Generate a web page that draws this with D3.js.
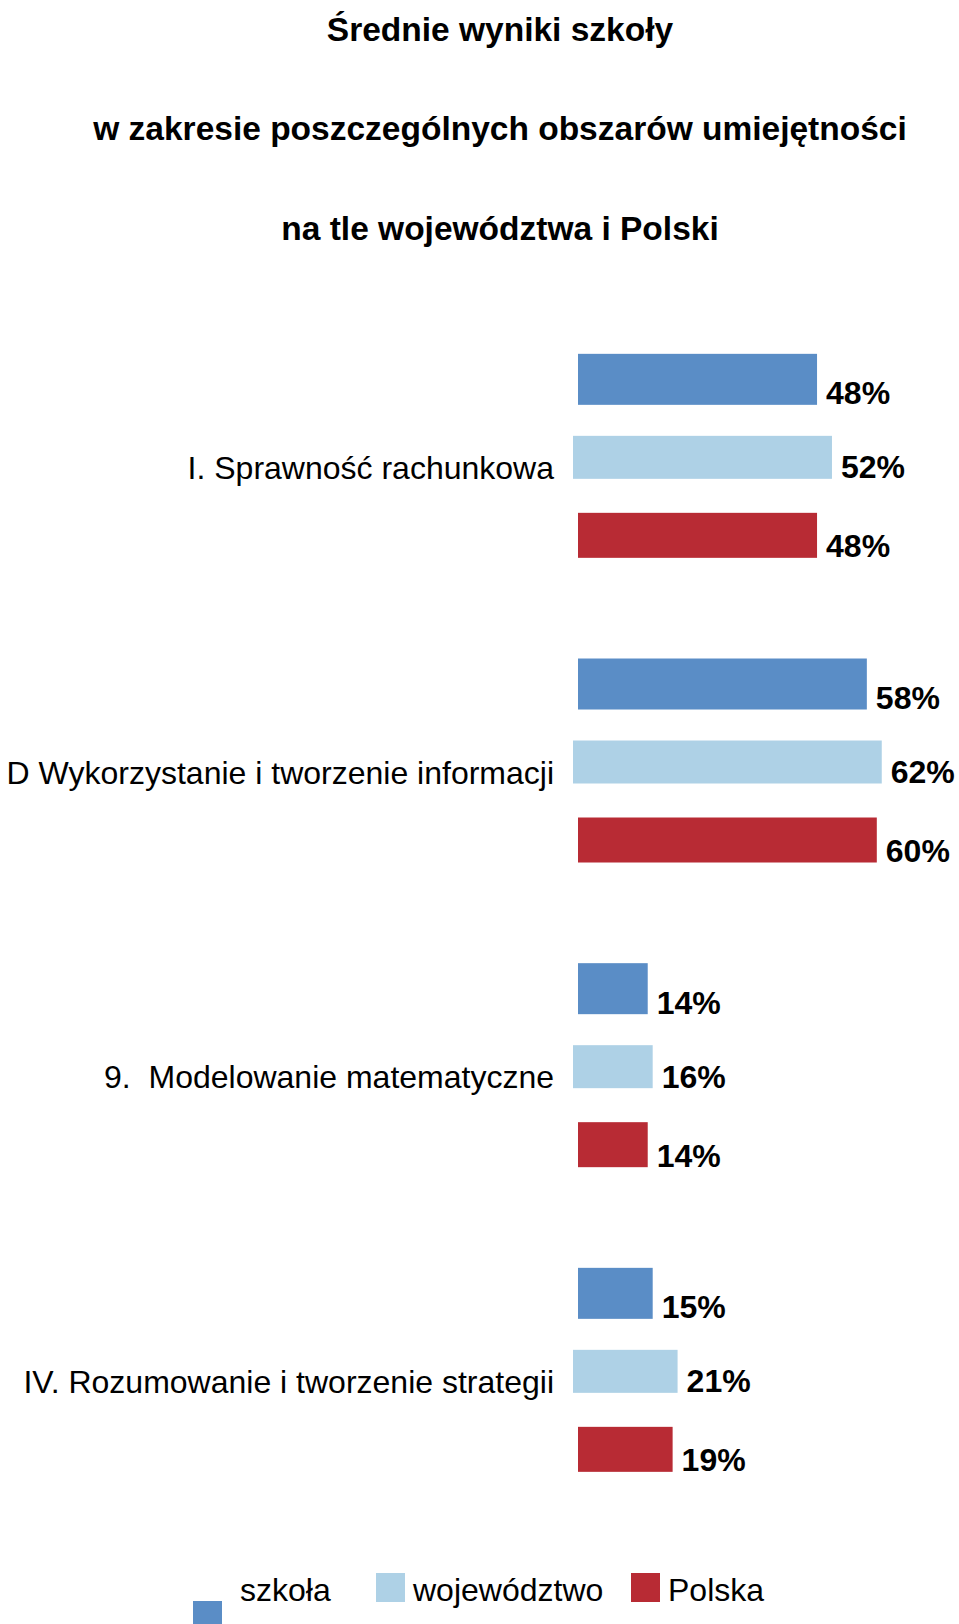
<!DOCTYPE html>
<html>
<head>
<meta charset="utf-8">
<script src="https://cdn.jsdelivr.net/npm/d3@7"></script>
<style>
  body { margin: 0; background: #fff; }
  svg { display: block; font-family: "Liberation Sans", Arial, sans-serif; }
  .title { font-weight: bold; font-size: 33.5px; }
  .cat { font-size: 32px; white-space: pre; }
  .val { font-weight: bold; font-size: 32px; }
  .leg { font-size: 32px; }
</style>
</head>
<body>
<div class="chart"></div>
<script>
// Data
var titleLines = ["Średnie wyniki szkoły", "w zakresie poszczególnych obszarów umiejętności", "na tle województwa i Polski"];
var categories = ["I. Sprawność rachunkowa", "D Wykorzystanie i tworzenie informacji", "9.  Modelowanie matematyczne", "IV. Rozumowanie i tworzenie strategii"];
var seriesNames = ["szkoła", "województwo", "Polska"];
var szkola = [48, 58, 14, 15];
var wojewodztwo = [52, 62, 16, 21];
var polska = [48, 60, 14, 19];

// Style per series (colour, bar height, small x shift)
var seriesColors = ["#5a8dc6", "#aed1e6", "#b82b34"];
var seriesHeights = [51, 43, 45];
var seriesShift = [0, -5, 0];

var svgWidth = 959;
var svgHeight = 1624;

var svg = d3.select(".chart")
  .append("svg")
  .attr("width", svgWidth)
  .attr("height", svgHeight);

// Title
svg.selectAll(".title")
  .data(titleLines)
  .enter().append("text")
  .attr("class", "title")
  .attr("x", 500)
  .attr("y", function(d, i) { return 41 + i * 99.3; })
  .attr("text-anchor", "middle")
  .text(function(d) { return d; });

// Scales
var x0 = 578;
var xScale = d3.scaleLinear().domain([0, 100]).range([0, 498]);
var yScale = d3.scaleBand().domain(categories).range([305, 305 + 4 * 304.67]);
var yInner = d3.scaleBand().domain(seriesNames).range([-117, 117]);

var rows = [];
categories.forEach(function(c, i) {
  [szkola, wojewodztwo, polska].forEach(function(arr, s) {
    rows.push({ cat: c, series: seriesNames[s], s: s, value: arr[i] });
  });
});

function center(d) {
  return yScale(d.cat) + yScale.bandwidth() / 2 + yInner(d.series) + yInner.bandwidth() / 2;
}

var chart = svg.append("g");

// Bars
chart.selectAll("rect.bar")
  .data(rows)
  .enter().append("rect")
  .attr("class", "bar")
  .attr("x", function(d) { return x0 + seriesShift[d.s]; })
  .attr("y", function(d) { return center(d) - seriesHeights[d.s] / 2; })
  .attr("width", function(d) { return xScale(d.value); })
  .attr("height", function(d) { return seriesHeights[d.s]; })
  .attr("fill", function(d) { return seriesColors[d.s]; });

// Value labels
chart.selectAll("text.val")
  .data(rows)
  .enter().append("text")
  .attr("class", "val")
  .attr("x", function(d) { return x0 + seriesShift[d.s] + xScale(d.value) + 9; })
  .attr("y", function(d) { return center(d) + seriesHeights[d.s] / 2 - 0.5; })
  .text(function(d) { return d.value + "%"; });

// Category labels
chart.selectAll("text.cat")
  .data(categories)
  .enter().append("text")
  .attr("class", "cat")
  .attr("x", 554)
  .attr("y", function(d) { return yScale(d) + yScale.bandwidth() / 2 + 21.7; })
  .attr("text-anchor", "end")
  .text(function(d) { return d; });

// Legend
var legX = [193, 376, 631];
var legBoxY = [1601, 1573, 1573];
var legTextX = [240, 413, 668];
var legend = svg.append("g");
seriesNames.forEach(function(name, i) {
  legend.append("rect")
    .attr("x", legX[i])
    .attr("y", legBoxY[i])
    .attr("width", 29)
    .attr("height", 29)
    .attr("fill", seriesColors[i]);
  legend.append("text")
    .attr("class", "leg")
    .attr("x", legTextX[i])
    .attr("y", 1601)
    .text(name);
});
</script>
</body>
</html>
